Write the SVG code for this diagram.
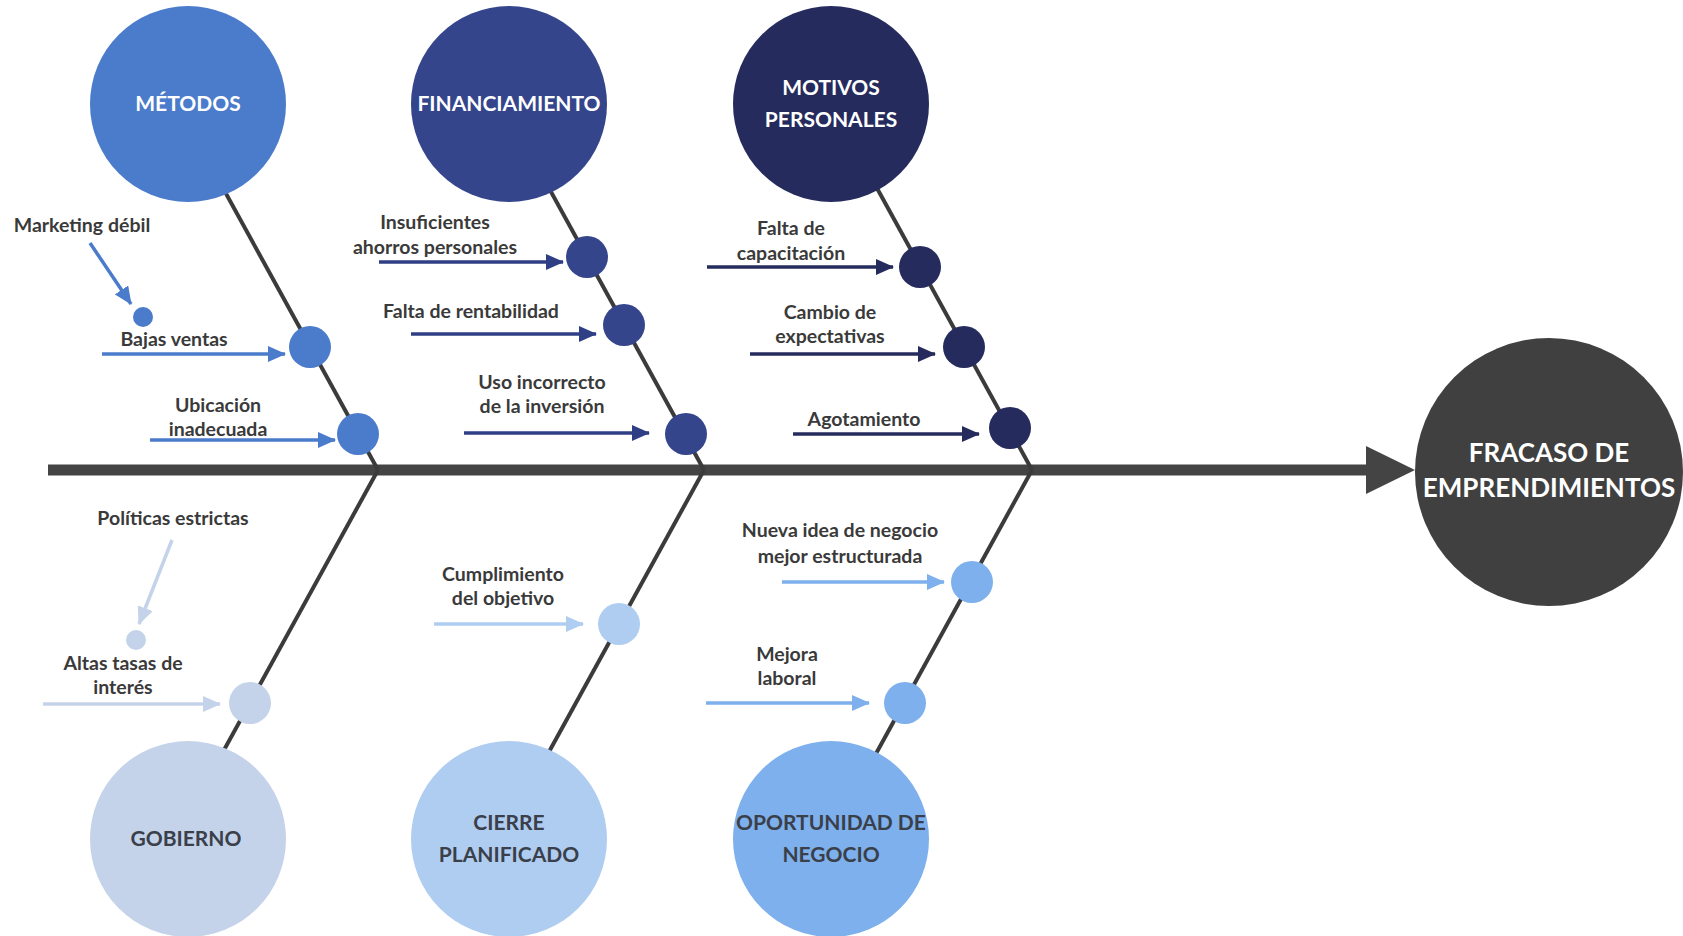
<svg xmlns="http://www.w3.org/2000/svg" width="1683" height="936" viewBox="0 0 1683 936">
<style>
.lbl{font-family:Lato,"Liberation Sans",sans-serif;font-weight:bold;font-size:19.5px;fill:#3a3a3a;text-anchor:middle}
.head{font-family:Lato,"Liberation Sans",sans-serif;font-weight:bold;font-size:21px;text-anchor:middle}
.w{fill:#ffffff}
.d{fill:#3a3f4a}
.bone{stroke:#3b3b3b;stroke-width:4;fill:none}
.arr{stroke-width:3.5;fill:none}
</style>
<defs>
<marker id="mMet" markerWidth="18" markerHeight="16" refX="17" refY="8" orient="auto" markerUnits="userSpaceOnUse"><path d="M0,0 L18,8 L0,16 Z" fill="#4B7BCB"/></marker>
<marker id="mFin" markerWidth="18" markerHeight="16" refX="17" refY="8" orient="auto" markerUnits="userSpaceOnUse"><path d="M0,0 L18,8 L0,16 Z" fill="#2F3F86"/></marker>
<marker id="mMot" markerWidth="18" markerHeight="16" refX="17" refY="8" orient="auto" markerUnits="userSpaceOnUse"><path d="M0,0 L18,8 L0,16 Z" fill="#252B5C"/></marker>
<marker id="mGob" markerWidth="18" markerHeight="16" refX="17" refY="8" orient="auto" markerUnits="userSpaceOnUse"><path d="M0,0 L18,8 L0,16 Z" fill="#C4D3E9"/></marker>
<marker id="mCie" markerWidth="18" markerHeight="16" refX="17" refY="8" orient="auto" markerUnits="userSpaceOnUse"><path d="M0,0 L18,8 L0,16 Z" fill="#AFCDF1"/></marker>
<marker id="mOpo" markerWidth="18" markerHeight="16" refX="17" refY="8" orient="auto" markerUnits="userSpaceOnUse"><path d="M0,0 L18,8 L0,16 Z" fill="#7DB0EC"/></marker>
</defs>
<rect width="1683" height="936" fill="#ffffff"/>

<g id="connectors">
  <line x1="48" y1="470" x2="1370" y2="470" stroke="#444444" stroke-width="11"/>
  <polygon points="1366,446 1415,470 1366,494" fill="#444444"/>
  <line class="bone" x1="378" y1="470" x2="180" y2="110"/>
  <line class="bone" x1="704" y1="470" x2="506" y2="110"/>
  <line class="bone" x1="1032" y1="470" x2="834" y2="110"/>
  <line class="bone" x1="378" y1="470" x2="180" y2="830"/>
  <line class="bone" x1="704" y1="470" x2="506" y2="830"/>
  <line class="bone" x1="1032" y1="470" x2="834" y2="830"/>
  <line class="arr" stroke="#4B7BCB" marker-end="url(#mMet)" x1="90" y1="243" x2="131" y2="304"/>
  <line class="arr" stroke="#4B7BCB" marker-end="url(#mMet)" x1="102" y1="354" x2="285" y2="354"/>
  <line class="arr" stroke="#4B7BCB" marker-end="url(#mMet)" x1="150" y1="440" x2="335" y2="440"/>
  <line class="arr" stroke="#2F3F86" marker-end="url(#mFin)" x1="379" y1="262" x2="563" y2="262"/>
  <line class="arr" stroke="#2F3F86" marker-end="url(#mFin)" x1="411" y1="334" x2="596" y2="334"/>
  <line class="arr" stroke="#2F3F86" marker-end="url(#mFin)" x1="464" y1="433" x2="649" y2="433"/>
  <line class="arr" stroke="#252B5C" marker-end="url(#mMot)" x1="707" y1="267" x2="893" y2="267"/>
  <line class="arr" stroke="#252B5C" marker-end="url(#mMot)" x1="750" y1="354" x2="935" y2="354"/>
  <line class="arr" stroke="#252B5C" marker-end="url(#mMot)" x1="793" y1="434" x2="979" y2="434"/>
  <line class="arr" stroke="#C4D3E9" marker-end="url(#mGob)" x1="172" y1="540" x2="139" y2="624"/>
  <line class="arr" stroke="#C4D3E9" marker-end="url(#mGob)" x1="43" y1="704" x2="220" y2="704"/>
  <line class="arr" stroke="#AFCDF1" marker-end="url(#mCie)" x1="434" y1="624" x2="583" y2="624"/>
  <line class="arr" stroke="#7DB0EC" marker-end="url(#mOpo)" x1="782" y1="582" x2="944" y2="582"/>
  <line class="arr" stroke="#7DB0EC" marker-end="url(#mOpo)" x1="706" y1="703" x2="869" y2="703"/>
</g>

<g id="node-metodos">
  <circle cx="188" cy="104" r="98" fill="#4B7BCB"/>
  <text class="head w" x="188" y="111">MÉTODOS</text>
</g>
<g id="node-financiamiento">
  <circle cx="509" cy="104" r="98" fill="#34458C"/>
  <text class="head w" x="509" y="111">FINANCIAMIENTO</text>
</g>
<g id="node-motivos">
  <circle cx="831" cy="104" r="98" fill="#252B5C"/>
  <text class="head w" x="831" y="95">MOTIVOS</text>
  <text class="head w" x="831" y="127">PERSONALES</text>
</g>
<g id="node-gobierno">
  <circle cx="188" cy="839" r="98" fill="#C4D3E9"/>
  <text class="head d" x="186" y="846">GOBIERNO</text>
</g>
<g id="node-cierre">
  <circle cx="509" cy="839" r="98" fill="#AFCDF1"/>
  <text class="head d" x="509" y="830">CIERRE</text>
  <text class="head d" x="509" y="862">PLANIFICADO</text>
</g>
<g id="node-oportunidad">
  <circle cx="831" cy="839" r="98" fill="#7DB0EC"/>
  <text class="head d" x="831" y="830">OPORTUNIDAD DE</text>
  <text class="head d" x="831" y="862">NEGOCIO</text>
</g>
<g id="node-fracaso">
  <circle cx="1549" cy="472" r="134" fill="#404040"/>
  <text class="head w" style="font-size:26px" x="1549" y="462">FRACASO DE</text>
  <text class="head w" style="font-size:26px" x="1549" y="497">EMPRENDIMIENTOS</text>
</g>

<g id="causes-metodos">
  <circle cx="143" cy="317" r="10" fill="#4B7BCB"/>
  <circle cx="310" cy="347" r="21" fill="#4B7BCB"/>
  <circle cx="358" cy="434" r="21" fill="#4B7BCB"/>
  <text class="lbl" x="82" y="232">Marketing débil</text>
  <text class="lbl" x="174" y="346">Bajas ventas</text>
  <text class="lbl" x="218" y="412">Ubicación</text>
  <text class="lbl" x="218" y="436">inadecuada</text>
</g>
<g id="causes-financiamiento">
  <circle cx="587" cy="257" r="21" fill="#34458C"/>
  <circle cx="624" cy="325" r="21" fill="#34458C"/>
  <circle cx="686" cy="434" r="21" fill="#34458C"/>
  <text class="lbl" x="435" y="229">Insuficientes</text>
  <text class="lbl" x="435" y="254">ahorros personales</text>
  <text class="lbl" x="471" y="318">Falta de rentabilidad</text>
  <text class="lbl" x="542" y="389">Uso incorrecto</text>
  <text class="lbl" x="542" y="413">de la inversión</text>
</g>
<g id="causes-motivos">
  <circle cx="920" cy="267" r="21" fill="#252B5C"/>
  <circle cx="964" cy="347" r="21" fill="#252B5C"/>
  <circle cx="1010" cy="428" r="21" fill="#252B5C"/>
  <text class="lbl" x="791" y="235">Falta de</text>
  <text class="lbl" x="791" y="260">capacitación</text>
  <text class="lbl" x="830" y="319">Cambio de</text>
  <text class="lbl" x="830" y="343">expectativas</text>
  <text class="lbl" x="864" y="426">Agotamiento</text>
</g>
<g id="causes-gobierno">
  <circle cx="136" cy="640" r="10" fill="#C4D3E9"/>
  <circle cx="250" cy="703" r="21" fill="#C4D3E9"/>
  <text class="lbl" x="173" y="525">Políticas estrictas</text>
  <text class="lbl" x="123" y="670">Altas tasas de</text>
  <text class="lbl" x="123" y="694">interés</text>
</g>
<g id="causes-cierre">
  <circle cx="619" cy="624" r="21" fill="#AFCDF1"/>
  <text class="lbl" x="503" y="581">Cumplimiento</text>
  <text class="lbl" x="503" y="605">del objetivo</text>
</g>
<g id="causes-oportunidad">
  <circle cx="972" cy="582" r="21" fill="#7DB0EC"/>
  <circle cx="905" cy="703" r="21" fill="#7DB0EC"/>
  <text class="lbl" x="840" y="537">Nueva idea de negocio</text>
  <text class="lbl" x="840" y="563">mejor estructurada</text>
  <text class="lbl" x="787" y="661">Mejora</text>
  <text class="lbl" x="787" y="685">laboral</text>
</g>
</svg>
